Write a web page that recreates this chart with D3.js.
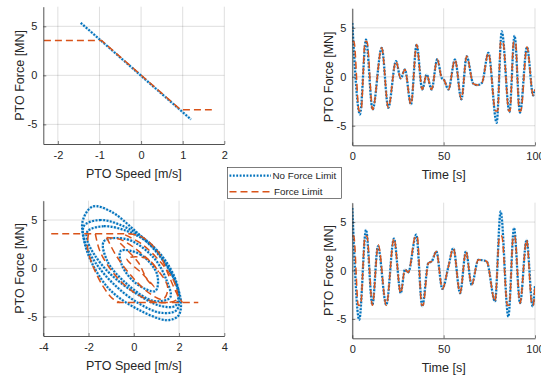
<!DOCTYPE html>
<html>
<head>
<meta charset="utf-8">
<script src="https://cdn.jsdelivr.net/npm/d3@7"></script>
<style>
  body { margin: 0; background: #fff; }
  svg { display: block; font-family: "Liberation Sans", Arial, sans-serif; }
</style>
</head>
<body>
<svg id="chart" width="541" height="378"></svg>
<script>
// ---- data ----
const seriesNames = ["No Force Limit", "Force Limit"];
const forceTicks = [-5, 0, 5];
const speedTicksTop = [-2, -1, 0, 1, 2];
const speedTicksBottom = [-4, -2, 0, 2, 4];
const timeTicks = [0, 50, 100];

// top-left: force vs speed (damping only)
const tlNoLimit = [[-1.45, 5.35], [1.2, -4.5]];
const tlLimit = [[-2.6, 3.55], [-0.95, 3.55], [0.95, -3.5], [1.7, -3.5]];

// top-right: force vs time
const trNoLimit = [[0,5.5],[4.2,-3.85],[7.5,3.8],[11.1,-3.35],[16.1,2.96],[19.7,-3.16],[23.9,1.6],[26.5,-0.17],[28.8,0.74],[32.1,-2.83],[35.2,3.3],[38.3,-1.3],[40.7,0.23],[43.4,-1.3],[46.5,1.8],[48.9,-0.1],[50.3,-0.35],[52.6,-1.3],[56.2,1.77],[59.7,-2.3],[62.6,2.1],[66.2,-0.7],[68.5,-0.85],[71,-0.6],[74.5,2.45],[79,-4.7],[81.8,4.65],[86,-3.6],[88.8,4.2],[91.8,-3.67],[95.6,3.05],[99,-1.9],[100,-1.3]];
const trLimit = [[0,3.6],[0.9,3.6],[3.7,-3.5],[4.8,-3.5],[7.0,3.6],[8.0,3.6],[11.1,-3.35],[16.1,2.96],[19.7,-3.16],[23.9,1.6],[26.5,-0.17],[28.8,0.74],[32.1,-2.83],[35.2,3.3],[38.3,-1.3],[40.7,0.23],[43.4,-1.3],[46.5,1.8],[48.9,-0.1],[50.3,-0.35],[52.6,-1.3],[56.2,1.77],[59.7,-2.3],[62.6,2.1],[66.2,-0.7],[68.5,-0.85],[71,-0.6],[74.5,2.45],[78.4,-3.5],[79.6,-3.5],[81.2,3.6],[82.4,3.6],[85.7,-3.5],[86.3,-3.5],[88.3,3.6],[89.3,3.6],[91.4,-3.5],[92.2,-3.5],[95.6,3.05],[99,-1.9],[100,-1.3]];

// bottom-left: force vs speed (reactive control) - loops
const blNoLimitLoops = [
  [[-1.82,6.4],[-2.26,4.9],[-2.19,2.8],[-1.82,0.4],[-1.02,-2.3],[0.15,-4.2],[1.46,-5.36],[1.97,-4.9],[2.08,-3.37],[1.75,-0.96],[1.03,1.6],[0,4.0],[-1.02,5.9]],
  [[-2.04,3.85],[-1.32,4.36],[-0.29,3.85],[0.73,2.47],[1.61,-0.27],[1.97,-2.68],[1.83,-3.88],[1.17,-3.88],[0.15,-2.68],[-1.02,-0.62],[-1.75,1.44],[-2.07,3.0]],
  [[-2.2,4.4],[-1.5,5.0],[-0.6,4.5],[0.5,3.0],[1.4,0.8],[1.95,-2.0],[1.9,-4.3],[1.2,-4.6],[0.2,-3.6],[-0.9,-1.6],[-1.7,0.6],[-2.15,2.6]],
  [[-1.32,2.8],[-0.29,3.0],[0.88,1.1],[1.46,-1.3],[1.61,-3.0],[0.88,-3.37],[-0.29,-1.65],[-1.17,0.75]],
  [[-0.58,1.8],[0.29,1.44],[1.03,-0.62],[0.95,-2.34],[0.15,-1.65],[-0.51,0.24]]
];
const blLimitUpper = [[-3.65, 3.58], [-0.1, 3.58]];
const blLimitLower = [[-0.75, -3.54], [2.85, -3.54]];
const blLimitLoops = [
  [[-0.2,3.58],[0.4,3.2],[1.1,1.6],[1.5,-0.5],[1.9,-2.6],[2.15,-3.54]],
  [[-2.0,3.58],[-2.05,2.2],[-1.8,0.2],[-1.35,-1.9],[-0.95,-3.1],[-0.6,-3.54]],
  [[-1.7,3.58],[-1.5,1.8],[-0.9,-0.5],[-0.1,-2.3],[0.8,-3.4],[1.5,-3.54],[1.9,-3.2],[1.8,-1.5],[1.2,0.6],[0.3,2.6],[-0.5,3.58]],
  [[-1.2,3.2],[-0.8,1.4],[-0.1,-0.8],[0.7,-2.6],[1.3,-3.2],[1.5,-2.0],[1.0,0.0],[0.2,1.8],[-0.6,3.0],[-1.2,3.2]],
  [[-0.6,2.6],[0.2,0.6],[0.6,-1.2],[0.9,-1.9],[0.4,-0.6],[-0.3,1.0],[0.6,1.0],[1.1,-0.4]]
];

// bottom-right: force vs time
const brNoLimit = [[0,6.45],[3.8,-5.1],[7.5,4.2],[11,-3.55],[14,2.5],[18.6,-3.55],[22.8,3.3],[26.5,-2.34],[28.8,0.1],[30.6,-0.2],[35,3.7],[38.3,-3.7],[41.6,0.77],[43.5,0.95],[46,1.97],[49.3,-1.9],[52.6,0.4],[55.3,2.3],[59,-2.34],[62.2,1.97],[65.3,-1.48],[69,1.1],[71.5,1.05],[73.6,0.93],[78.1,-3.2],[81.2,6.1],[85.4,-4.77],[88.5,4.4],[91.8,-3.37],[95.4,3.17],[98.7,-3.7],[100,-1.6]];
const brLimit = [[0,3.55],[0.8,3.55],[3.3,-3.6],[4.5,-3.6],[7.0,3.55],[8.0,3.55],[11,-3.6],[14.2,2.66],[18.6,-3.6],[22.8,3.3],[26.5,-2.34],[28.8,0.1],[30.6,-0.2],[34.6,3.55],[35.5,3.55],[38,-3.6],[38.7,-3.6],[41.6,0.77],[43.5,0.95],[46,1.97],[49.3,-1.9],[52.6,0.4],[55.3,2.3],[59,-2.34],[62.2,1.97],[65.3,-1.48],[69,1.1],[71.5,1.05],[73.6,0.93],[78.1,-3.2],[80.6,3.55],[81.8,3.55],[84.9,-3.6],[85.9,-3.6],[88.1,3.55],[88.9,3.55],[91.8,-3.37],[95.4,3.17],[98.4,-3.6],[99,-3.6],[100,-1.6]];

// ---- drawing ----
const svg = d3.select("#chart");
const blue = "#0072BD", orange = "#D95319", axisColor = "#262626";

function styleBlue(sel) {
  sel.attr("fill", "none").attr("stroke", blue).attr("stroke-width", 2.2)
     .attr("stroke-dasharray", "1.8,1.6");
}
function styleOrange(sel) {
  sel.attr("fill", "none").attr("stroke", orange).attr("stroke-width", 1.5)
     .attr("stroke-dasharray", "7,4");
}

function drawPanel(p) {
  const x = d3.scaleLinear().domain(p.xDomain).range([p.left, p.right]);
  const y = d3.scaleLinear().domain([-7, 7]).range([p.bottom, p.top]);
  const g = svg.append("g");

  // grid
  g.selectAll(".gx").data(p.xTicks).join("line")
    .attr("x1", d => x(d)).attr("x2", d => x(d))
    .attr("y1", p.top).attr("y2", p.bottom)
    .attr("stroke", axisColor).attr("stroke-opacity", 0.15);
  g.selectAll(".gy").data(forceTicks).join("line")
    .attr("x1", p.left).attr("x2", p.right)
    .attr("y1", d => y(d)).attr("y2", d => y(d))
    .attr("stroke", axisColor).attr("stroke-opacity", 0.15);

  // clip to axes box
  svg.append("clipPath").attr("id", "clip" + p.id).append("rect")
    .attr("x", p.left).attr("y", p.top)
    .attr("width", p.right - p.left).attr("height", p.bottom - p.top);
  const plot = g.append("g").attr("clip-path", `url(#clip${p.id})`);

  p.series.forEach(s => {
    const line = d3.line().x(d => x(d[0])).y(d => y(d[1])).curve(s.curve);
    const path = plot.append("path").datum(s.data).attr("d", line);
    if (s.color === "blue") {
      plot.insert("path", ":last-child").datum(s.data).attr("d", line)
        .attr("fill", "none").attr("stroke", blue).attr("stroke-width", 2.6)
        .attr("stroke-opacity", 0.18);
      styleBlue(path);
    } else {
      styleOrange(path);
    }
  });

  // axes (box off, ticks inward)
  const xAxis = d3.axisBottom(x).tickValues(p.xTicks).tickSizeInner(-3).tickSizeOuter(0).tickPadding(7);
  const yAxis = d3.axisLeft(y).tickValues(forceTicks).tickSizeInner(-3).tickSizeOuter(0).tickPadding(6);
  [g.append("g").attr("transform", `translate(0,${p.bottom})`).call(xAxis),
   g.append("g").attr("transform", `translate(${p.left},0)`).call(yAxis)].forEach(a => {
    a.select(".domain").attr("stroke", axisColor).attr("stroke-width", 0.8);
    a.selectAll(".tick line").attr("stroke", axisColor).attr("stroke-width", 0.6);
    a.selectAll("text").attr("fill", axisColor).attr("font-size", 11)
      .attr("font-family", '"Liberation Sans", Arial, sans-serif')
      .text(d => d < 0 ? "-" + Math.abs(d) : d);
  });

  g.append("text")
    .attr("x", (p.left + p.right) / 2).attr("y", p.bottom + 33.5)
    .attr("text-anchor", "middle").attr("font-size", 12.5).attr("fill", axisColor)
    .text(p.xLabel);
  g.append("text")
    .attr("transform", `translate(${p.left - 19.5},${(p.top + p.bottom) / 2}) rotate(-90)`)
    .attr("text-anchor", "middle").attr("font-size", 12.5).attr("fill", axisColor)
    .text("PTO Force [MN]");
}

const lin = d3.curveLinear, mono = d3.curveMonotoneX;

drawPanel({
  id: 1, left: 43.3, right: 224.3, top: 6.7, bottom: 144,
  xDomain: [-2.35, 2], xTicks: speedTicksTop, xLabel: "PTO Speed [m/s]",
  series: [
    { data: tlNoLimit, color: "blue", curve: lin },
    { data: tlLimit, color: "orange", curve: lin }
  ]
});

drawPanel({
  id: 2, left: 352.3, right: 535, top: 8.3, bottom: 145.3,
  xDomain: [0, 100], xTicks: timeTicks, xLabel: "Time [s]",
  series: [
    { data: trNoLimit, color: "blue", curve: mono },
    { data: trLimit, color: "orange", curve: mono }
  ]
});

drawPanel({
  id: 3, left: 43.3, right: 224.3, top: 200.7, bottom: 336,
  xDomain: [-4, 4], xTicks: speedTicksBottom, xLabel: "PTO Speed [m/s]",
  series: [
    ...blNoLimitLoops.map(l => ({ data: l, color: "blue", curve: d3.curveCatmullRomClosed })),
    { data: blLimitUpper, color: "orange", curve: lin },
    { data: blLimitLower, color: "orange", curve: lin },
    ...blLimitLoops.map(l => ({ data: l, color: "orange", curve: d3.curveCatmullRom }))
  ]
});

drawPanel({
  id: 4, left: 352.3, right: 535, top: 202.7, bottom: 338.3,
  xDomain: [0, 100], xTicks: timeTicks, xLabel: "Time [s]",
  series: [
    { data: brNoLimit, color: "blue", curve: mono },
    { data: brLimit, color: "orange", curve: mono }
  ]
});

// legend
const legend = svg.append("g");
legend.append("rect")
  .attr("x", 227.5).attr("y", 167.5).attr("width", 114).attr("height", 31)
  .attr("fill", "#fff").attr("stroke", axisColor).attr("stroke-width", 0.6);
seriesNames.forEach((name, i) => {
  const ly = 175.7 + i * 16;
  const l = legend.append("line")
    .attr("x1", 229.5).attr("x2", 271).attr("y1", ly).attr("y2", ly);
  if (i === 0) styleBlue(l); else styleOrange(l);
  legend.append("text")
    .attr("x", i === 0 ? 272.5 : 274).attr("y", ly + 3.6)
    .attr("font-size", 9.8).attr("fill", axisColor)
    .text(name);
});
</script>
</body>
</html>
